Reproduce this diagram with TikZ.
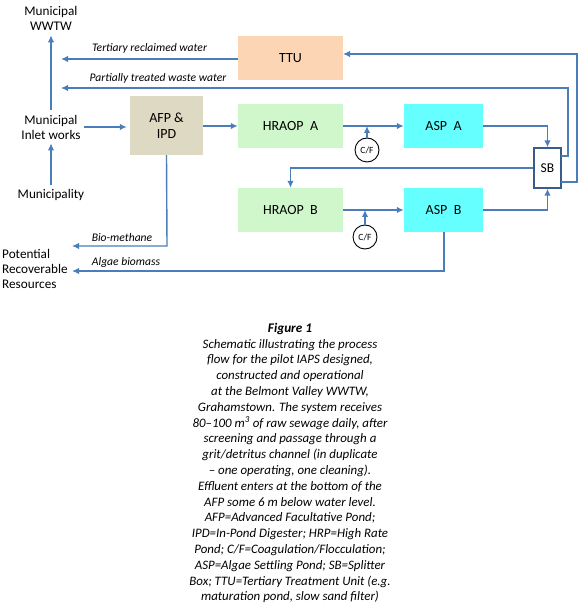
\documentclass[tikz,border=0pt]{standalone}
\usepackage{fontspec}
\setmainfont{Carlito}
\usetikzlibrary{arrows.meta,calc}
\definecolor{lineblue}{RGB}{74,126,187}
\definecolor{ttufill}{RGB}{252,213,181}
\definecolor{afpfill}{RGB}{221,217,195}
\definecolor{hrafill}{RGB}{208,246,204}
\definecolor{aspfill}{RGB}{102,255,255}
\definecolor{sbborder}{RGB}{56,93,138}
\tikzset{
  flow/.style={draw=lineblue,line width=1.4pt,-{Latex[length=7pt,width=6.5pt]}},
  plain/.style={draw=lineblue,line width=1.4pt},
  unit/.style={rectangle,draw=none,minimum height=44pt,font=\fontsize{14}{15}\selectfont,inner sep=0pt},
  lbl/.style={font=\fontsize{13.2}{16}\selectfont,align=center,inner sep=1pt},
  flowlbl/.style={font=\fontsize{11.6}{13}\itshape,inner sep=0pt},
  cf/.style={circle,draw=black,line width=0.9pt,minimum size=24pt,inner sep=0pt,font=\fontsize{9.5}{10}\selectfont},
  captionline/.style={font=\fontsize{12.9}{14}\itshape,anchor=base,inner sep=0pt}
}
\begin{document}
\begin{tikzpicture}[x=1pt,y=-1pt]
\useasboundingbox (0,0) rectangle (580,609);
% text nodes
\node[lbl] (wwtw) at (51,18) {Municipal\\[-1pt]WWTW};
\node[lbl] (inlet) at (51,127) {Municipal\\[-1pt]Inlet works};
\node[lbl] (munic) at (51,195) {Municipality};
\node[lbl,align=left,anchor=west] (prr) at (1,269) {Potential\\[-1pt]Recoverable\\[-1pt]Resources};
% units
\node[unit,fill=ttufill,minimum width=105pt] (ttu) at (290.5,58) {TTU};
\node[unit,fill=afpfill,minimum width=73pt,minimum height=59pt,align=center] (afp) at (166.5,125.5) {AFP \&\\[1pt]IPD};
\node[unit,fill=hrafill,minimum width=105pt] (hraA) at (290.5,126) {HRAOP\ \ A};
\node[unit,fill=aspfill,minimum width=79pt] (aspA) at (443.5,126) {ASP\ \ A};
\node[unit,fill=hrafill,minimum width=105pt] (hraB) at (290.5,210) {HRAOP\ \ B};
\node[unit,fill=aspfill,minimum width=79pt] (aspB) at (443.5,210) {ASP\ \ B};
\node[rectangle,draw=sbborder,fill=white,line width=1.3pt,minimum width=27pt,minimum height=40pt,inner sep=0pt,font=\fontsize{13.5}{15}\selectfont] (sb) at (547.5,168) {SB};
\node[cf] (cfA) at (367,150) {C/F};
\node[cf] (cfB) at (365,237) {C/F};
% helper coordinates
\coordinate (wIn1) at (61,59);
\coordinate (wIn2) at (61,88);
\coordinate (sbE1) at (561,156);
\coordinate (sbE2) at (561,182);
\coordinate (rIn) at (568,88);
\coordinate (rOut) at (577,54);
\coordinate (ttuIn) at (343,54);
\coordinate (bioEnd) at (72,246);
\coordinate (algEnd) at (72,271);
\coordinate (bioCorner) at (167,246);
\coordinate (algCorner) at (444,271);
% connectors
\draw[flow,shorten <=4pt,shorten >=4pt] (inlet.north) -- (wwtw.south);
\draw[flow,shorten <=3pt,shorten >=3pt] (munic.north) -- (inlet.south);
\draw[flow,shorten <=2pt,shorten >=3pt] (inlet.east) -- (afp.west |- inlet.east);
\draw[flow] (afp.east |- hraA.west) -- (hraA.west);
\draw[flow] (hraA.east) -- (aspA.west);
\draw[flow] (hraB.east) -- (aspB.west);
\draw[flow] (cfA.north) -- (cfA.north |- hraA.east);
\draw[flow] (cfB.north) -- (cfB.north |- hraB.east);
\draw[flow] (aspA.east) -| (sb.north);
\draw[flow] (aspB.east) -| (sb.south);
\draw[flow] (sb.west) -| (hraB.north);
\draw[flow] (sbE1) -| (rIn) -- (wIn2);
\draw[flow] (sbE2) -| (rOut) -- (ttuIn);
\draw[flow] (ttu.west |- wIn1) -- (wIn1);
\draw[flow] (afp.south) -- (bioCorner) -- (bioEnd);
\draw[flow] (aspB.south -| algCorner) -- (algCorner) -- (algEnd);
% flow labels
\node[flowlbl] (l1) at (149.5,48) {Tertiary reclaimed water};
\node[flowlbl] (l2) at (158,78.5) {Partially treated waste water};
\node[flowlbl] (l3) at (122,238) {Bio-methane};
\node[flowlbl] (l4) at (126,262) {Algae biomass};
% caption
\node[captionline,font=\fontsize{13.2}{14}\bfseries\itshape] (fig) at (290,332.5) {Figure 1};
\foreach \t [count=\i] in {
 {Schematic illustrating the process},
 {flow for the pilot IAPS designed,},
 {constructed and operational},
 {at the Belmont Valley WWTW,},
 {Grahamstown. The system receives},
 {80--100 m\textsuperscript{3} of raw sewage daily, after},
 {screening and passage through a},
 {grit/detritus channel (in duplicate},
 {-- one operating, one cleaning).},
 {Effluent enters at the bottom of the},
 {AFP some 6 m below water level.},
 {AFP=Advanced Facultative Pond;},
 {IPD=In-Pond Digester; HRP=High Rate},
 {Pond; C/F=Coagulation/Flocculation;},
 {ASP=Algae Settling Pond; SB=Splitter},
 {Box; TTU=Tertiary Treatment Unit (e.g.},
 {maturation pond, slow sand filter)}}
 \node[captionline] (cap\i) at (290,{348+15.8*(\i-1)}) {\t};
\end{tikzpicture}
\end{document}
